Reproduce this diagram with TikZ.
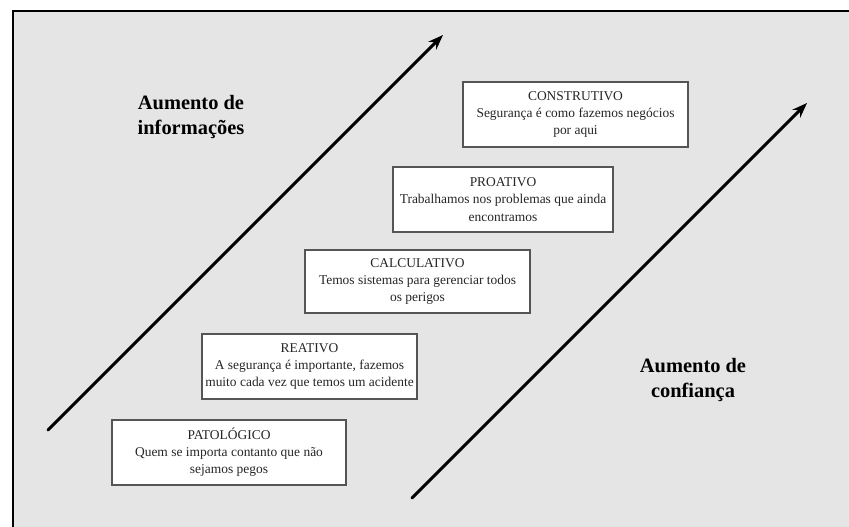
\documentclass[tikz,border=0pt]{standalone}
\usepackage{fontspec}
\setmainfont{Liberation Serif}
\usetikzlibrary{arrows.meta}
\definecolor{panel}{HTML}{E6E5E6}
\definecolor{boxline}{HTML}{555555}
\definecolor{boxtext}{HTML}{262626}
\begin{document}
\begin{tikzpicture}[x=1bp,y=-1bp,
  stage/.style={draw=boxline, line width=1.3bp, fill=white, text=boxtext,
    align=center, inner sep=0pt, font=\fontsize{13.5}{17.2}\selectfont},
  trend/.style={line width=3bp, -{Stealth[length=15bp,width=11bp]}, line cap=round},
  axislabel/.style={align=center, font=\fontsize{20.5}{25.5}\selectfont\bfseries, text=black}]
  % canvas and panel
  \useasboundingbox (0,0) rectangle (849,527);
  \fill[white] (0,0) rectangle (849,527);
  \fill[panel] (13,11) rectangle (849,527);
  \draw[line width=1.2bp] (13,527) -- (13,11) -- (849,11);

  % trend arrows
  \coordinate (a1s) at (48,430);
  \coordinate (a1e) at (443,35);
  \coordinate (a2s) at (412,498);
  \coordinate (a2e) at (807,103);
  \draw[trend] (a1s) -- (a1e);
  \draw[trend] (a2s) -- (a2e);

  % stages
  \node[stage, minimum width=234bp, minimum height=65bp] (pat) at (229,452.5)
    {PATOLÓGICO\\Quem se importa contanto que não\\sejamos pegos};
  \node[stage, minimum width=215bp, minimum height=65bp] (rea) at (309.5,366.5)
    {REATIVO\\A segurança é importante, fazemos\\muito cada vez que temos um acidente};
  \node[stage, minimum width=225bp, minimum height=63bp] (cal) at (417.5,281.5)
    {CALCULATIVO\\Temos sistemas para gerenciar todos\\os perigos};
  \node[stage, minimum width=220bp, minimum height=65bp] (pro) at (503,199.5)
    {PROATIVO\\Trabalhamos nos problemas que ainda\\encontramos};
  \node[stage, minimum width=225bp, minimum height=65bp] (con) at (575.5,114.5)
    {CONSTRUTIVO\\Segurança é como fazemos negócios\\por aqui};

  % axis labels
  \node[axislabel] (info) at (191,117) {Aumento de\\informações};
  \node[axislabel] (conf) at (693,380) {Aumento de\\confiança};
\end{tikzpicture}
\end{document}
